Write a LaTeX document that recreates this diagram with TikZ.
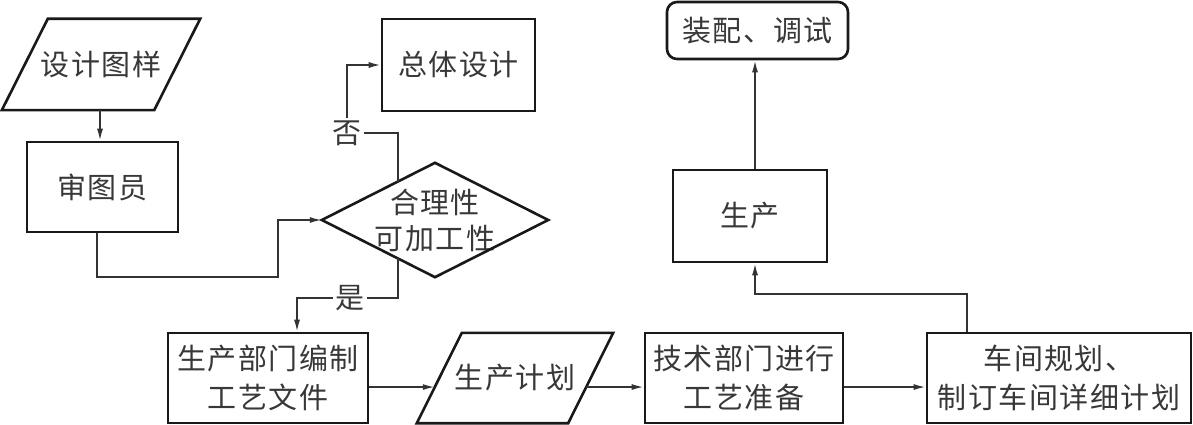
\documentclass[tikz,border=0pt]{standalone}
\usepackage{fontspec}
\newfontfamily\cjk[LetterSpace=5]{Noto Sans CJK SC}
\usetikzlibrary{arrows.meta,calc}
\tikzset{
  cjkfont/.style={font=\cjk\fontsize{29}{39}\selectfont},
  box/.style={draw=black!90, line width=2.6pt, inner sep=0pt, align=center, cjkfont, text=black!78},
  txt/.style={inner sep=0pt, align=center, cjkfont, text=black!78},
  outline/.style={draw=black!90, line width=2.6pt, line join=miter},
  conn/.style={draw=black!80, line width=1.7pt},
  arr/.style={conn, -{Latex[length=12pt,width=6pt]}},
  lbl/.style={fill=white, inner sep=2pt, cjkfont, text=black!78},
}
\begin{document}
\begin{tikzpicture}[x=1pt,y=-1pt]
\useasboundingbox[fill=white] (0,0) rectangle (1193,425);

% nodes
\node[txt, minimum width=198pt, minimum height=91pt] (sj) at (101,64.5) {设计图样};
\draw[outline] ([xshift=46pt]sj.north west) -- (sj.north east) -- ([xshift=-46pt]sj.south east) -- (sj.south west) -- cycle;

\node[box, minimum width=151pt, minimum height=90pt] (sty) at (102.5,187) {审图员};
\node[box, minimum width=153pt, minimum height=92pt] (zt) at (458.5,65) {总体设计};

\node[txt, minimum width=226pt, minimum height=114pt, font=\cjk\fontsize{29}{36}\selectfont] (hl) at (435,220) {合理性\\可加工性};
\draw[outline] (hl.west) -- (hl.north) -- (hl.east) -- (hl.south) -- cycle;

\node[box, minimum width=200pt, minimum height=90pt] (gy) at (268,378) {生产部门编制\\工艺文件};
\node[txt, minimum width=196pt, minimum height=90pt] (jh) at (515,378) {生产计划};
\draw[outline] ([xshift=45pt]jh.north west) -- (jh.north east) -- ([xshift=-45pt]jh.south east) -- (jh.south west) -- cycle;
\node[box, minimum width=198pt, minimum height=90pt] (js) at (744,378) {技术部门进行\\工艺准备};
\node[box, minimum width=264pt, minimum height=90pt] (cj) at (1059,378) {车间规划、\\制订车间详细计划};
\node[box, minimum width=154pt, minimum height=92pt] (sc) at (750,216) {生产};
\node[box, rounded corners=10pt, minimum width=181pt, minimum height=57pt] (zp) at (757.5,30.5) {装配、调试};

% labels
\node[lbl] (no) at (347,133) {否};
\node[lbl] (yes) at (350,298) {是};

% helper coordinates
\coordinate (b1) at (278,277);
\coordinate (n0) at ($(hl.west)!0.6726!(hl.north)$);
\coordinate (y0) at ($(hl.west)!0.6726!(hl.south)$);
\coordinate (jhL) at ($(jh.south west)!0.4!([xshift=45pt]jh.north west)$);
\coordinate (jhR) at ($([xshift=-45pt]jh.south east)!0.4!(jh.north east)$);

% connectors
\draw[arr] ([xshift=-1pt]sj.south) -- ([xshift=-1pt]sj.south |- sty.north);
\draw[arr] ([xshift=-5.5pt]sty.south) |- (b1) |- (hl.west);
\draw[conn] (n0) |- (no.east);
\draw[arr] (no.north) |- (zt.west);
\draw[conn] (y0) |- (yes.east);
\draw[arr] (yes.west) -| ([xshift=29pt]gy.north);
\draw[arr] (gy.east |- jhL) -- (jhL);
\draw[arr] (jhR) -- (js.west |- jhR);
\draw[arr] (js.east |- jhR) -- (cj.west |- jhR);
\draw[arr] ([xshift=-92pt]cj.north) |- ([xshift=5pt,yshift=-31pt]sc.south) -- ([xshift=5pt]sc.south);
\draw[arr] ([xshift=5pt]sc.north) -- ([xshift=5pt]sc.north |- zp.south);
\end{tikzpicture}
\end{document}
